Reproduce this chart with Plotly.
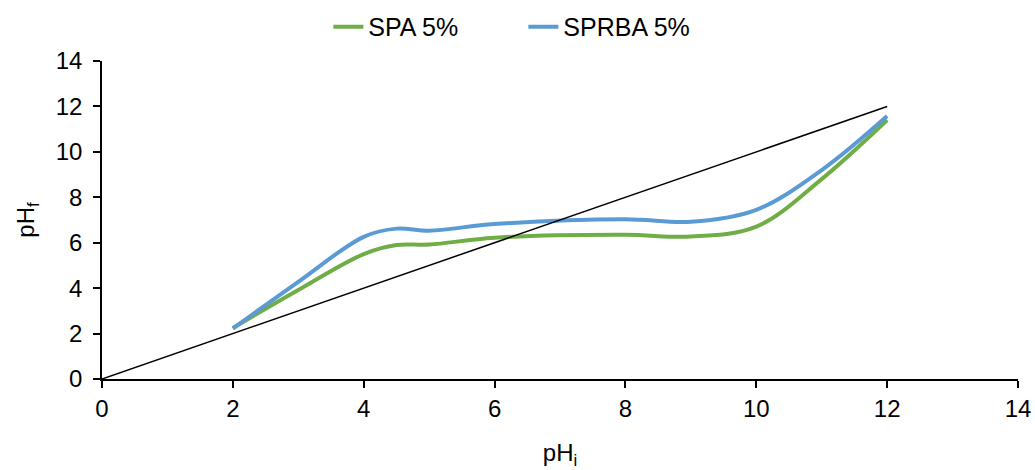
import plotly.graph_objects as go

# Data
ph_initial = [2, 3, 4, 4.5, 5, 6, 8, 9, 10, 11, 12]
spa_5 = [2.25, 3.92, 5.50, 5.90, 5.92, 6.22, 6.35, 6.27, 6.71, 8.80, 11.40]
sprba_5 = [2.22, 4.28, 6.26, 6.62, 6.53, 6.82, 7.03, 6.92, 7.45, 9.20, 11.58]
ref_x = [0, 12]
ref_y = [0, 12]
tick_vals = [0, 2, 4, 6, 8, 10, 12, 14]

FONT = "Liberation Sans, Arial, sans-serif"

fig = go.Figure()
fig.add_trace(go.Scatter(x=ph_initial, y=spa_5, mode="lines", name="SPA 5%",
                         line=dict(color="#70AD47", width=4, shape="spline", smoothing=1)))
fig.add_trace(go.Scatter(x=ph_initial, y=sprba_5, mode="lines", name="SPRBA 5%",
                         line=dict(color="#5B9BD5", width=4, shape="spline", smoothing=1)))
fig.add_trace(go.Scatter(x=ref_x, y=ref_y, mode="lines", showlegend=False,
                         line=dict(color="black", width=1.5)))

axis_common = dict(range=[0, 14], tickvals=tick_vals, showgrid=False, zeroline=False,
                   showline=True, linecolor="black", linewidth=1.5,
                   ticks="outside", ticklen=7, tickwidth=1.5, tickcolor="black",
                   tickfont=dict(family=FONT, size=24, color="black"))

fig.update_layout(
    width=1035, height=470,
    margin=dict(l=102, r=17, t=61, b=91, autoexpand=False),
    paper_bgcolor="white", plot_bgcolor="white",
    font=dict(family=FONT, size=24, color="black"),
    xaxis=dict(axis_common, title=dict(text="pH<sub>i</sub>", font=dict(family=FONT, size=24), standoff=28)),
    yaxis=dict(axis_common, title=dict(text="pH<sub>f</sub>", font=dict(family=FONT, size=24), standoff=14),
               ticklabelstandoff=6),
    legend=dict(orientation="h", x=0.46, xanchor="center", y=1.107, yanchor="middle",
                font=dict(family=FONT, size=25), bgcolor="rgba(0,0,0,0)", itemwidth=30,
                entrywidth=150),
)

fig.write_html("out.html")
